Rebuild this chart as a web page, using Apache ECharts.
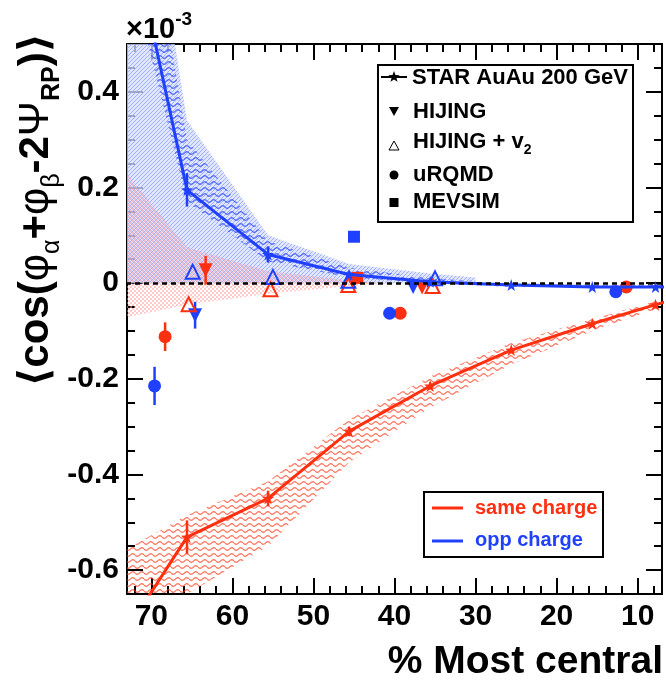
<!DOCTYPE html>
<html>
<head>
<meta charset="utf-8">
<script src="https://cdn.jsdelivr.net/npm/echarts@6/dist/echarts.min.js"></script>
<style>
html,body{margin:0;padding:0;background:#fff;}
#chart{width:666px;height:681px;}
</style>
</head>
<body>
<div id="chart"></div>
<script>
// values in units of 1e-3
var starX   = [75.5, 65.6, 55.6, 45.6, 35.6, 25.6, 15.6, 7.8, 2.5];
var sameY   = [-0.79, -0.531, -0.45, -0.31, -0.215, -0.14, -0.085, -0.045, -0.02];
var sameErr = [0.04, 0.035, 0.016, 0.01, 0.007, 0.005, 0.004, 0.004, 0.004];
var oppY    = [0.97, 0.195, 0.06, 0.018, 0.003, -0.004, -0.008, -0.008, -0.008];
var oppErr  = [0.04, 0.035, 0.017, 0.006, 0.004, 0.003, 0.003, 0.003, 0.003];

// systematic bands
var sameHi = [-0.58, -0.485, -0.415, -0.285, -0.195, -0.125, -0.075, -0.038, -0.015];
var sameLo = [-1.0, -0.65, -0.55, -0.375, -0.26, -0.17, -0.1, -0.055, -0.025];
var oppHi  = [1.3, 0.3, 0.088, 0.032, 0.01, 0.0, -0.004, -0.004, -0.004];
var oppLo  = [0.85, 0.17, 0.045, 0.012, 0.0, -0.008, -0.011, -0.011, -0.011];

// light shaded regions
var blueShX  = [75.5, 65.6, 55.6, 45.6, 35.6, 30];
var blueShHi = [1.4, 0.34, 0.1, 0.04, 0.02, 0.012];
var blueShLo = [0, 0, 0, 0, 0, 0];
var pinkShX  = [75.5, 65.6, 55.6, 45.6, 40];
var pinkShHi = [0.28, 0.075, 0.025, 0.006, 0];
var pinkShLo = [-0.08, -0.045, -0.022, -0.006, 0];

// models
var hijSameX = [63.3, 36.6],  hijSameY = [0.027, -0.009], hijSameErr = [0.03, 0.004];
var hijOppX  = [64.6, 37.7],  hijOppY  = [-0.067, -0.008], hijOppErr = [0.028, 0.004];
var hv2SameX = [65.4, 55.3, 45.7, 35.3], hv2SameY = [-0.044, -0.013, -0.004, -0.006];
var hv2OppX  = [64.9, 55.0, 45.7, 35.0], hv2OppY  = [0.024, 0.013, 0.005, 0.01];
var urqSameX = [68.3, 39.3, 11.4], urqSameY = [-0.112, -0.063, -0.008], urqSameErr = [0.03, 0.005, 0.004];
var urqOppX  = [69.6, 40.6, 12.7], urqOppY  = [-0.215, -0.063, -0.018], urqOppErr = [0.04, 0.005, 0.004];
var mevSameX = [44.6], mevSameY = [0.011];
var mevOppX  = [45.0], mevOppY  = [0.097];

var RED = '#ff3010', BLUE = '#2040ff';
var FONT = 'Liberation Sans, Arial, DejaVu Sans';
var STAR = 'path://M0,-10 L2.35,-3.24 L9.51,-3.09 L3.8,1.24 L5.88,8.09 L0,4 L-5.88,8.09 L-3.8,1.24 L-9.51,-3.09 L-2.35,-3.24 Z';

function zip(xs, ys){ return xs.map(function(x,i){ return [x, ys[i]]; }); }
function errs(xs, ys, e){ return xs.map(function(x,i){ return [x, ys[i]-e[i], ys[i]+e[i]]; }); }

//填充图案
function wave(color){
	var c = document.createElement('canvas'); c.width = 9; c.height = 6;
	var g = c.getContext('2d'); g.strokeStyle = color; g.lineWidth = 1.2; g.beginPath();
	for (var i = 0; i <= 9; i++){ var y = 3 + 1.4*Math.sin(i/9*2*Math.PI); if(i==0) g.moveTo(i,y); else g.lineTo(i,y); }
	g.stroke(); return c;
}
function hatch(bg, color){
	var c = document.createElement('canvas'); c.width = 4; c.height = 4;
	var g = c.getContext('2d'); g.fillStyle = bg; g.fillRect(0, 0, 4, 4);
	g.fillStyle = color;
	for (var i = 0; i < 4; i++) g.fillRect(i, 3-i, 1, 1);
	return c;
}
function checker(color){
	var c = document.createElement('canvas'); c.width = 4; c.height = 4;
	var g = c.getContext('2d'); g.fillStyle = color; g.fillRect(0,0,2,2); g.fillRect(2,2,2,2);
	return c;
}

function band(xs, hi, lo, pattern){
	return {
		type:'custom', clip:true, silent:true, data:[[40,0]],
		renderItem:function(params, api){
			var p = [], i;
			for (i = 0; i < xs.length; i++) p.push(api.coord([xs[i], hi[i]]));
			for (i = xs.length-1; i >= 0; i--) p.push(api.coord([xs[i], lo[i]]));
			return {type:'polygon', shape:{points:p}, style:{fill:{image:pattern, repeat:'repeat'}}};
		}
	};
}
function errBars(data, color){
	return {
		type:'custom', clip:true, silent:true, data:data, encode:{x:0, y:[1,2]},
		renderItem:function(params, api){
			var a = api.coord([api.value(0), api.value(1)]);
			var b = api.coord([api.value(0), api.value(2)]);
			return {type:'line', shape:{x1:a[0], y1:a[1], x2:b[0], y2:b[1]}, style:{stroke:color, lineWidth:2.5}};
		}
	};
}
function marks(data, symbol, color, open, size, rot){
	return {
		type:'scatter', data:data, symbol:symbol, symbolSize:size, symbolRotate:rot||0, silent:true,
		itemStyle: open ? {color:'rgba(255,255,255,0)', borderColor:color, borderWidth:2, opacity:1} : {color:color, opacity:1}
	};
}

var tickStyle = {color:'#000', width:2};
function xAx(pos){
	return {
		type:'value', min:7, max:73, inverse:true, position:pos,
		axisLine:{show:true, onZero:false, lineStyle:tickStyle},
		axisTick:{show:true, inside:true, length:16, lineStyle:tickStyle},
		minorTick:{show:true, splitNumber:5, length:8, lineStyle:tickStyle},
		splitLine:{show:false},
		axisLabel:{show:pos=='bottom', color:'#000', fontSize:30, fontWeight:'bold', fontFamily:FONT, margin:8, showMinLabel:false, showMaxLabel:false}
	};
}
function yAx(pos){
	return {
		type:'value', min:-0.65, max:0.5, splitNumber:5, position:pos,
		axisLine:{show:true, onZero:false, lineStyle:tickStyle},
		axisTick:{show:true, inside:true, length:16, lineStyle:tickStyle},
		minorTick:{show:true, splitNumber:4, length:8, lineStyle:tickStyle},
		splitLine:{show:false},
		axisLabel:{show:pos=='left', color:'#000', fontSize:30, fontWeight:'bold', fontFamily:FONT, margin:8, showMinLabel:false, showMaxLabel:false,
			formatter:function(v){ return v==0 ? '0' : v.toFixed(1); }}
	};
}

function legendItems(){
	var g = [];
	var lx = 394;
	function txt(x, y, s, color, size, rich){
		return {type:'text', x:x, y:y, z:100, style:{text:s, fill:color, font:'bold '+size+'px '+FONT, align:'left', verticalAlign:'middle', rich:rich}};
	}
	g.push({type:'rect', z:99, shape:{x:378, y:65, width:255, height:157}, style:{fill:'#fff', stroke:'#000', lineWidth:2}});
	g.push({type:'line', z:100, shape:{x1:381, y1:77, x2:407, y2:77}, style:{stroke:'#000', lineWidth:2}});
	var sp = [];
	for (var k = 0; k < 10; k++){ var r = k%2==0 ? 6 : 2.5, a = -Math.PI/2 + k*Math.PI/5; sp.push([lx + r*Math.cos(a), 77 + r*Math.sin(a)]); }
	g.push({type:'polygon', z:100, shape:{points:sp}, style:{fill:'#000'}});
	g.push(txt(412, 78, 'STAR AuAu 200 GeV', '#000', 22));
	g.push({type:'polygon', z:100, shape:{points:[[lx-5,107],[lx+5,107],[lx,116]]}, style:{fill:'#000'}});
	g.push(txt(413, 112, 'HIJING', '#000', 22));
	g.push({type:'polygon', z:100, shape:{points:[[lx-5,150],[lx+5,150],[lx,141]]}, style:{fill:'none', stroke:'#000', lineWidth:1}});
	g.push(txt(413, 142, '{m|HIJING + v}{s|2}', '#000', 22, {
		m:{font:'bold 22px '+FONT, fill:'#000', lineHeight:30, verticalAlign:'middle'},
		s:{font:'bold 14px '+FONT, fill:'#000', lineHeight:30, verticalAlign:'bottom'}}));
	g.push({type:'circle', z:100, shape:{cx:lx, cy:175, r:4.5}, style:{fill:'#000'}});
	g.push(txt(413, 175, 'uRQMD', '#000', 22));
	g.push({type:'rect', z:100, shape:{x:lx-4.5, y:198, width:9, height:9}, style:{fill:'#000'}});
	g.push(txt(413, 202, 'MEVSIM', '#000', 22));

	g.push({type:'rect', z:99, shape:{x:424, y:492, width:179, height:65}, style:{fill:'#fff', stroke:'#000', lineWidth:2}});
	g.push({type:'line', z:100, shape:{x1:432, y1:508, x2:463, y2:508}, style:{stroke:RED, lineWidth:3}});
	g.push({type:'line', z:100, shape:{x1:432, y1:541, x2:463, y2:541}, style:{stroke:BLUE, lineWidth:3}});
	g.push(txt(475, 508, 'same charge', RED, 20));
	g.push(txt(475, 540, 'opp charge', BLUE, 20));

	// axis titles
	g.push({type:'text', x:663, y:662, z:100, style:{text:'% Most central', fill:'#000', font:'bold 39px '+FONT, align:'right', verticalAlign:'middle'}});
	g.push({type:'text', x:126, y:44, z:100, style:{text:'{m|×10}{p|-3}', align:'left', verticalAlign:'bottom', rich:{
		m:{font:'bold 29px '+FONT, fill:'#000', lineHeight:34, verticalAlign:'bottom'},
		p:{font:'bold 19px '+FONT, fill:'#000', lineHeight:34, verticalAlign:'top'}}}});
	g.push({type:'text', x:36, y:210, rotation:Math.PI/2, z:100, style:{
		text:'{a|⟨cos(}{g|φ}{s|α}{a|+}{g|φ}{s|β}{a|-2}{g|Ψ}{r|RP}{a|)⟩}', align:'center', verticalAlign:'middle',
		rich:{
			a:{font:'bold 42px '+FONT, fill:'#000', lineHeight:58, verticalAlign:'middle'},
			g:{font:'42px '+FONT, fill:'#000', lineHeight:58, verticalAlign:'middle'},
			s:{font:'25px '+FONT, fill:'#000', lineHeight:58, verticalAlign:'bottom'},
			r:{font:'bold 25px '+FONT, fill:'#000', lineHeight:58, verticalAlign:'bottom'}
		}}});
	return g;
}

var chart = echarts.init(document.getElementById('chart'), null, {renderer:'canvas'});
chart.setOption({
	animation:false,
	backgroundColor:'#fff',
	grid:{left:127, right:4, top:44, bottom:87, containLabel:false},
	xAxis:[xAx('bottom'), xAx('top')],
	yAxis:[yAx('left'), yAx('right')],
	graphic:legendItems(),
	series:[
		band(blueShX, blueShHi, blueShLo, hatch('rgba(215,222,255,0.75)', 'rgba(150,168,255,0.85)')),
		band(pinkShX, pinkShHi, pinkShLo, checker('rgba(255,150,150,0.5)')),
		band(starX, oppHi, oppLo, wave('rgba(40,70,255,0.75)')),
		band(starX, sameHi, sameLo, wave('rgba(255,60,30,0.7)')),
		{
			type:'line', data:[], silent:true,
			markLine:{silent:true, symbol:'none', label:{show:false}, lineStyle:{color:'#000', type:[5,4], width:2.5}, data:[{yAxis:0}]}
		},
		errBars(errs(starX, sameY, sameErr), RED),
		errBars(errs(starX, oppY, oppErr), BLUE),
		{type:'line', data:zip(starX, sameY), clip:true, symbol:STAR, symbolSize:12, silent:true,
			lineStyle:{color:RED, width:3}, itemStyle:{color:RED}},
		{type:'line', data:zip(starX, oppY), clip:true, symbol:STAR, symbolSize:12, silent:true,
			lineStyle:{color:BLUE, width:3}, itemStyle:{color:BLUE}},
		errBars(errs(hijSameX, hijSameY, hijSameErr), RED),
		errBars(errs(hijOppX, hijOppY, hijOppErr), BLUE),
		errBars(errs(urqSameX, urqSameY, urqSameErr), RED),
		errBars(errs(urqOppX, urqOppY, urqOppErr), BLUE),
		marks(zip(hijSameX, hijSameY), 'triangle', RED, false, 14, 180),
		marks(zip(hijOppX, hijOppY), 'triangle', BLUE, false, 14, 180),
		marks(zip(hv2SameX, hv2SameY), 'triangle', RED, true, 14),
		marks(zip(hv2OppX, hv2OppY), 'triangle', BLUE, true, 14),
		marks(zip(urqSameX, urqSameY), 'circle', RED, false, 13),
		marks(zip(urqOppX, urqOppY), 'circle', BLUE, false, 13),
		marks(zip(mevSameX, mevSameY), 'rect', RED, false, 12),
		marks(zip(mevOppX, mevOppY), 'rect', BLUE, false, 12)
	]
});
</script>
</body>
</html>
